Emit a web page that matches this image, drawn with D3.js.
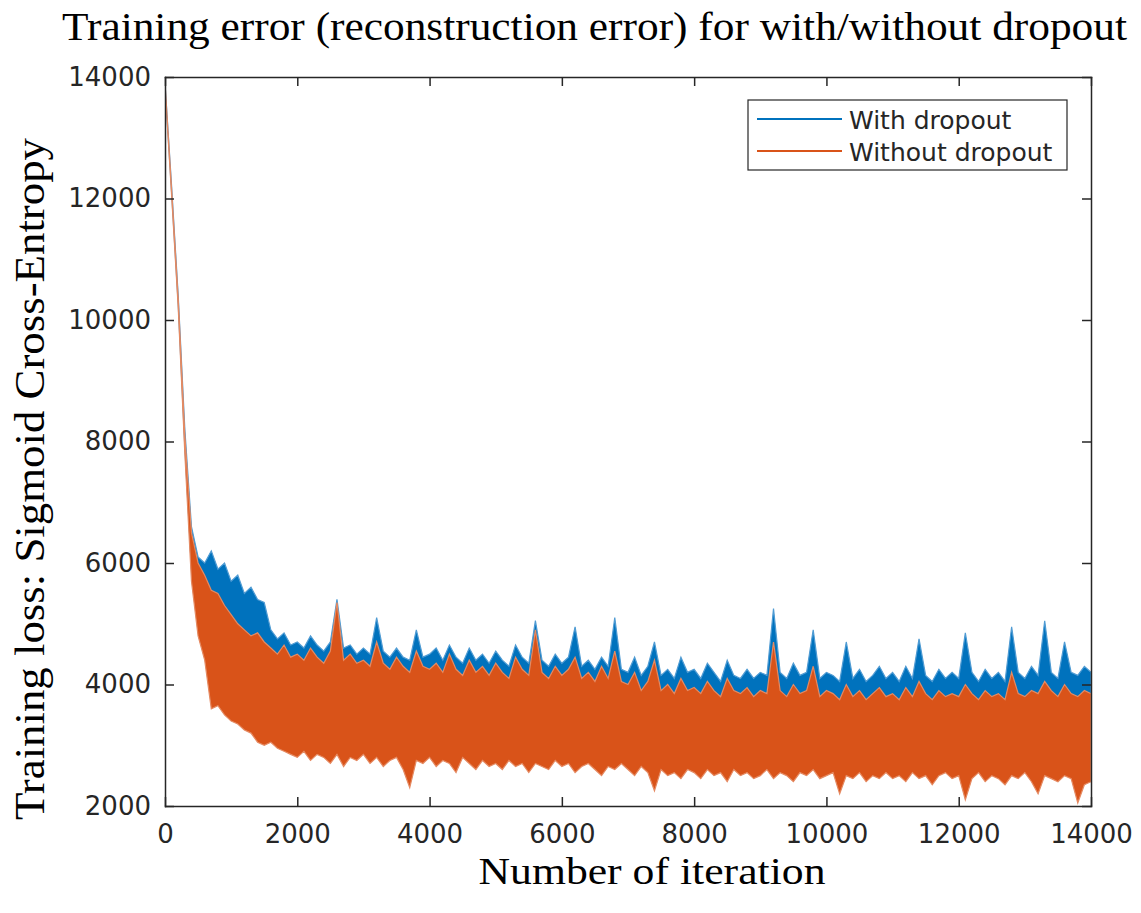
<!DOCTYPE html>
<html>
<head>
<meta charset="utf-8">
<script src="https://cdn.jsdelivr.net/npm/d3@7"></script>
<style>
  html, body { margin: 0; padding: 0; background: #ffffff; }
  svg { display: block; }
</style>
</head>
<body>
<div id="chart"></div>
<script>
// ---------------- DATA ----------------
const chartTitle = "Training error (reconstruction error) for with/without dropout";
const xAxisLabel = "Number of iteration";
const yAxisLabel = "Training loss: Sigmoid Cross-Entropy";
const seriesNames = ["With dropout", "Without dropout"];
const xTicks = [0, 2000, 4000, 6000, 8000, 10000, 12000, 14000];
const yTicks = [2000, 4000, 6000, 8000, 10000, 12000, 14000];

// sample iterations: one every 100 iterations, 0 .. 14000
const iterations = d3.range(0, 14001, 100);

// "With dropout": upper and lower edge of the noisy trace in each 100-iteration window
const withDropoutHigh = [
  13900, 12200, 10400, 8200, 6600, 6100, 6000, 6200, 5900, 6000,
  5700, 5800, 5500, 5600, 5400, 5350, 4900, 4750, 4850, 4650,
  4700, 4600, 4800, 4650, 4550, 4700, 5400, 4600, 4650, 4500,
  4600, 4500, 5100, 4550, 4450, 4600, 4450, 4400, 4900, 4450,
  4500, 4600, 4400, 4650, 4450, 4350, 4600, 4400, 4500, 4350,
  4550, 4400, 4300, 4650, 4450, 4350, 5050, 4400, 4300, 4500,
  4350, 4450, 4950, 4300, 4400, 4250, 4450, 4300, 5100, 4250,
  4200, 4450, 4150, 4300, 4700, 4150, 4250, 4100, 4450, 4200,
  4250, 4100, 4350, 4200, 4050, 4400, 4150, 4100, 4250, 4100,
  4200, 4150, 5250, 4200, 4100, 4350, 4150, 4200, 4900, 4100,
  4200, 4150, 4050, 4700, 4100, 4250, 4050, 4150, 4300, 4100,
  4200, 4050, 4300, 4100, 4750, 4150, 4050, 4250, 4100, 4200,
  4100, 4850, 4200, 4050, 4250, 4100, 4200, 4050, 4950, 4200,
  4100, 4300, 4150, 5050, 4200, 4100, 4700, 4200, 4150, 4300,
  4200
];
const withDropoutLow = [
  13850, 12100, 10250, 7900, 5900, 5100, 4700, 4200, 4100, 4000,
  3900, 3850, 3750, 3650, 3600, 3500, 3450, 3400, 3400, 3350,
  3300, 3350, 3250, 3300, 3300, 3250, 3350, 3250, 3300, 3250,
  3300, 3250, 3300, 3200, 3250, 3300, 3200, 3250, 3300, 3200,
  3250, 3200, 3250, 3200, 3150, 3250, 3200, 3150, 3250, 3200,
  3200, 3150, 3250, 3200, 3200, 3150, 3250, 3200, 3150, 3200,
  3200, 3150, 3200, 3150, 3200, 3150, 3100, 3200, 3150, 3200,
  3100, 3050, 3150, 3100, 3050, 3100, 3050, 3100, 3050, 3100,
  3100, 3050, 3100, 3050, 3100, 3000, 3100, 3050, 3100, 3050,
  3050, 3100, 3000, 3100, 3050, 3000, 3100, 3050, 3100, 3050,
  3050, 3100, 2950, 3050, 3000, 3100, 3000, 3050, 3000, 3100,
  3000, 3050, 3000, 3100, 3000, 3050, 2950, 3050, 3100, 3000,
  3050, 2900, 3000, 3100, 3000, 3050, 3000, 2950, 3050, 3000,
  3100, 3000, 2950, 3050, 3000, 2950, 3050, 3000, 2850, 2950,
  3000
];

// "Without dropout": upper and lower edge of the noisy trace in each 100-iteration window
const withoutDropoutHigh = [
  13900, 12150, 10350, 8100, 6500, 6000, 5800, 5550, 5500, 5300,
  5150, 5000, 4900, 4800, 4850, 4700, 4600, 4500, 4650, 4450,
  4500, 4400, 4600, 4450, 4350, 4550, 5350, 4400, 4500, 4350,
  4400, 4300, 4700, 4350, 4250, 4450, 4300, 4200, 4550, 4300,
  4250, 4350, 4200, 4500, 4250, 4150, 4400, 4200, 4300, 4150,
  4350, 4200, 4100, 4450, 4250, 4150, 4900, 4200, 4100, 4300,
  4150, 4250, 4450, 4100, 4200, 4050, 4300, 4100, 4550, 4050,
  4000, 4200, 3900, 4050, 4400, 3900, 4000, 3850, 4100, 3900,
  3950, 3850, 4050, 3900, 3800, 4100, 3900, 3850, 3950, 3800,
  3900, 3850, 4700, 3900, 3800, 4000, 3850, 3900, 4300, 3800,
  3900, 3850, 3750, 4000, 3800, 3900, 3750, 3850, 3950, 3800,
  3850, 3750, 3950, 3800, 4050, 3850, 3750, 3900, 3800, 3850,
  3800, 4000, 3850, 3750, 3900, 3800, 3850, 3750, 4200, 3850,
  3800, 3900, 3850, 4050, 3900, 3800, 4000, 3850, 3800, 3900,
  3850
];
const withoutDropoutLow = [
  13850, 12050, 10200, 7800, 5700, 4800, 4400, 3600, 3650, 3500,
  3400, 3350, 3250, 3200, 3050, 3000, 3050, 2950, 2900, 2850,
  2800, 2900, 2750, 2850, 2800, 2700, 2850, 2650, 2800, 2750,
  2850, 2700, 2800, 2650, 2750, 2800, 2600, 2300, 2750, 2700,
  2800, 2650, 2750, 2700, 2550, 2800, 2700, 2600, 2750, 2650,
  2700, 2600, 2750, 2650, 2700, 2550, 2700, 2650, 2600, 2750,
  2650, 2700, 2550, 2650, 2700, 2600, 2500, 2650, 2600, 2700,
  2600, 2500, 2650, 2550, 2250, 2600, 2500, 2550, 2450, 2600,
  2550, 2450, 2600, 2500, 2550, 2400, 2600, 2500, 2550, 2450,
  2500, 2600, 2450, 2550, 2500, 2400, 2550, 2500, 2600, 2450,
  2500, 2550, 2200, 2500, 2450, 2550, 2400, 2500, 2450, 2550,
  2450, 2500, 2400, 2550, 2450, 2500, 2350, 2500, 2550, 2450,
  2500, 2100, 2450, 2550, 2400, 2500, 2450, 2350, 2500, 2450,
  2550, 2400, 2200, 2500, 2450, 2400, 2500, 2450, 2050, 2350,
  2400
];

const seriesColors = ["#0072BD", "#D95319"];
const seriesEdgeColors = ["#4F9BD3", "#E58A62"];

// ---------------- LAYOUT ----------------
const W = 1141, H = 913;
const plot = { left: 165, right: 1091, top: 77, bottom: 806 };
const axisColor = "#262626";
const tickFont = "'DejaVu Sans', Verdana, sans-serif";
const serifFont = "'Liberation Serif', 'Times New Roman', serif";

const svg = d3.select("#chart").append("svg")
  .attr("width", W).attr("height", H)
  .attr("viewBox", `0 0 ${W} ${H}`);

const x = d3.scaleLinear().domain([0, 14000]).range([plot.left, plot.right]);
const y = d3.scaleLinear().domain([2000, 14000]).range([plot.bottom, plot.top]);

svg.append("defs").append("clipPath").attr("id", "plotClip")
  .append("rect")
  .attr("x", plot.left).attr("y", plot.top)
  .attr("width", plot.right - plot.left).attr("height", plot.bottom - plot.top);

// ---------------- SERIES ----------------
const seriesData = [
  iterations.map((it, i) => ({ iter: it, hi: withDropoutHigh[i], lo: withDropoutLow[i] })),
  iterations.map((it, i) => ({ iter: it, hi: withoutDropoutHigh[i], lo: withoutDropoutLow[i] }))
];

const area = d3.area()
  .x(d => x(d.iter))
  .y0(d => y(d.lo))
  .y1(d => y(d.hi));

const gSeries = svg.append("g").attr("clip-path", "url(#plotClip)");
seriesData.forEach((data, k) => {
  gSeries.append("path")
    .datum(data)
    .attr("d", area)
    .attr("fill", seriesColors[k])
    .attr("stroke", seriesEdgeColors[k])
    .attr("stroke-width", 1.2)
    .attr("stroke-linejoin", "miter");
});

// ---------------- AXES ----------------
function styleAxis(g) {
  g.selectAll(".domain").attr("stroke", axisColor).attr("stroke-width", 1.5);
  g.selectAll(".tick line").attr("stroke", axisColor).attr("stroke-width", 1.5);
  g.selectAll(".tick text")
    .attr("fill", axisColor)
    .style("font-family", tickFont)
    .style("font-size", "26px");
}

svg.append("g")
  .attr("transform", `translate(0,${plot.bottom})`)
  .call(d3.axisBottom(x).tickValues(xTicks).tickFormat(d3.format("d"))
    .tickSizeInner(-9).tickSizeOuter(0).tickPadding(19))
  .call(styleAxis);

svg.append("g")
  .attr("transform", `translate(0,${plot.top})`)
  .call(d3.axisTop(x).tickValues(xTicks).tickFormat("")
    .tickSizeInner(-9).tickSizeOuter(0))
  .call(styleAxis);

svg.append("g")
  .attr("transform", `translate(${plot.left},0)`)
  .call(d3.axisLeft(y).tickValues(yTicks).tickFormat(d3.format("d"))
    .tickSizeInner(-9).tickSizeOuter(0).tickPadding(14))
  .call(styleAxis);

svg.append("g")
  .attr("transform", `translate(${plot.right},0)`)
  .call(d3.axisRight(y).tickValues(yTicks).tickFormat("")
    .tickSizeInner(-9).tickSizeOuter(0))
  .call(styleAxis);

svg.selectAll(".domain").attr("stroke-linecap", "square");

// ---------------- TEXTS ----------------
svg.append("text")
  .attr("x", 62).attr("y", 40)
  .attr("textLength", 1065).attr("lengthAdjust", "spacingAndGlyphs")
  .style("font-family", serifFont).style("font-size", "40px")
  .attr("fill", "#000")
  .text(chartTitle);

svg.append("text")
  .attr("x", 652).attr("y", 884)
  .attr("text-anchor", "middle")
  .attr("textLength", 347).attr("lengthAdjust", "spacingAndGlyphs")
  .style("font-family", serifFont).style("font-size", "38px")
  .attr("fill", "#000")
  .text(xAxisLabel);

svg.append("text")
  .attr("transform", "translate(44,479) rotate(-90)")
  .attr("text-anchor", "middle")
  .attr("textLength", 682).attr("lengthAdjust", "spacingAndGlyphs")
  .style("font-family", serifFont).style("font-size", "42px")
  .attr("fill", "#000")
  .text(yAxisLabel);

// ---------------- LEGEND ----------------
const legend = svg.append("g");
legend.append("rect")
  .attr("x", 748).attr("y", 100).attr("width", 319).attr("height", 70)
  .attr("fill", "#ffffff").attr("stroke", axisColor).attr("stroke-width", 1.2);

seriesNames.forEach((name, k) => {
  const ly = 119 + k * 32;
  legend.append("line")
    .attr("x1", 757).attr("x2", 842).attr("y1", ly).attr("y2", ly)
    .attr("stroke", seriesColors[k]).attr("stroke-width", 2);
  legend.append("text")
    .attr("x", 849).attr("y", ly + 10)
    .style("font-family", tickFont).style("font-size", "25px")
    .attr("fill", axisColor)
    .text(name);
});
</script>
</body>
</html>
